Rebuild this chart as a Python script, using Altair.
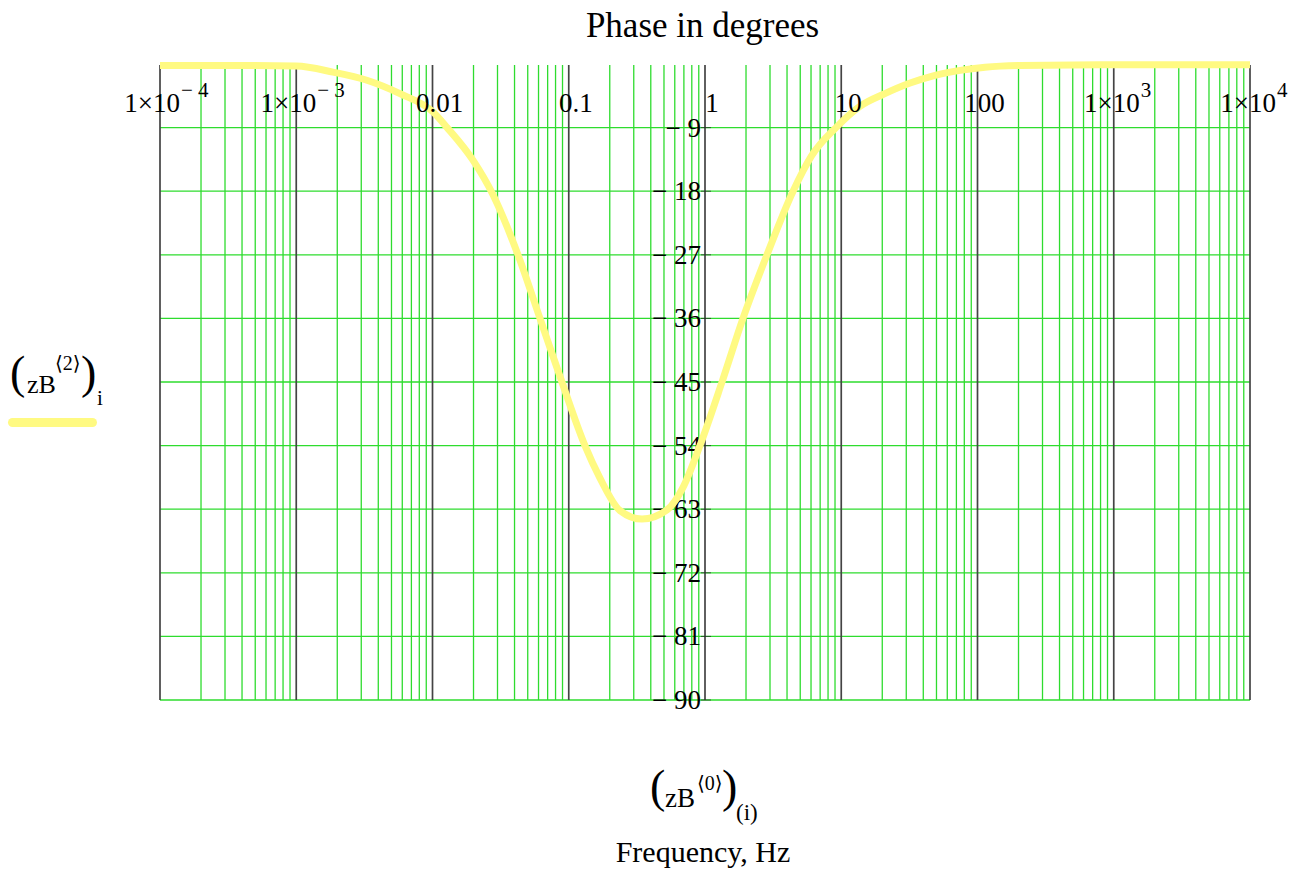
import altair as alt
import pandas as pd

# Phase response of zB column 2 against frequency (zB column 0)
freq_hz = [1e-4, 3.1e-4, 1.0e-3, 1.86e-3, 3.3e-3, 5.77e-3, 0.0101, 0.0128, 0.0198,
           0.0278, 0.0424, 0.0615, 0.0891, 0.1315, 0.1695, 0.2378, 0.345,
           0.526, 0.690, 0.918, 1.333, 1.90, 2.85, 4.43, 6.05, 9.15, 13.7, 20.9,
           32.0, 48.8, 74.4, 113.6, 205.0, 793.0, 1e4]
phase_deg = [-0.2, -0.2, -0.3, -1.15, -2.3, -4.2, -6.8, -9.0, -13.6,
             -18.5, -27.0, -36.0, -45.0, -54.0, -58.6, -63.2, -64.4,
             -63.1, -59.9, -54.0, -45.0, -36.0, -27.0, -18.0, -13.0, -9.0, -6.0, -4.2,
             -2.7, -1.6, -0.9, -0.45, -0.2, -0.1, -0.1]

decades = [1e-4, 1e-3, 0.01, 0.1, 1, 10, 100, 1e3, 1e4]
minor = [m * d for d in decades[:-1] for m in range(2, 10)]
phase_ticks = [-9, -18, -27, -36, -45, -54, -63, -72, -81, -90]

plain_f = [0.01, 0.1, 1, 10, 100]
plain_text = ["0.01", "0.1", "1", "10", "100"]
neg_f = [1e-4, 1e-3]
neg_exp = ["\u2212 4", "\u2212 3"]
pos_f = [1e3, 1e4]
pos_exp = ["3", "4"]

W, H = 1090, 636
SERIF = "Liberation Serif, Times New Roman, DejaVu Serif"
GREEN = "#2EDC2E"
DARK = "#444444"
YELLOW = "#FFFA82"

X_SCALE = alt.Scale(type="log", domain=[1e-4, 1e4], nice=False)
Y_SCALE = alt.Scale(domain=[-90, 0], nice=False)

top_axis = alt.Axis(orient="top", values=decades + minor, labels=False, title=None,
                    grid=False, tickSize=7, tickColor="#222", domainColor="#222",
                    tickWidth=1, domainWidth=1.2)

curve_df = pd.DataFrame({"f": freq_hz, "p": phase_deg})
minor_df = pd.DataFrame({"f": minor})
decade_df = pd.DataFrame({"f": decades})
hgrid_df = pd.DataFrame({"p": phase_ticks, "f": [1] * len(phase_ticks)})

minor_rules = alt.Chart(minor_df).mark_rule(color=GREEN, strokeWidth=1.3).encode(
    x=alt.X("f:Q", scale=X_SCALE, axis=top_axis),
    y=alt.value(1), y2=alt.value(H))

decade_rules = alt.Chart(decade_df).mark_rule(color=DARK, strokeWidth=1.7).encode(
    x=alt.X("f:Q", scale=X_SCALE, axis=None),
    y=alt.value(1), y2=alt.value(H))

h_rules = alt.Chart(hgrid_df).mark_rule(color=GREEN, strokeWidth=1.3).encode(
    y=alt.Y("p:Q", scale=Y_SCALE, axis=None))

# phase axis drawn through 1 Hz: crossing ticks and "− n" labels
y_ticks = alt.Chart(hgrid_df).mark_tick(color="#222", orient="horizontal", size=10,
                                        thickness=1, xOffset=1).encode(
    x=alt.X("f:Q", scale=X_SCALE, axis=None),
    y=alt.Y("p:Q", scale=Y_SCALE, axis=None))

y_labels = alt.Chart(hgrid_df).transform_calculate(
    lbl="'\u2212 ' + abs(datum.p)"
).mark_text(align="right", baseline="middle", dx=-4, dy=1, font=SERIF,
            fontSize=27, color="black").encode(
    x=alt.X("f:Q", scale=X_SCALE, axis=None),
    y=alt.Y("p:Q", scale=Y_SCALE, axis=None),
    text="lbl:N")

curve = alt.Chart(curve_df).mark_line(color=YELLOW, strokeWidth=7,
                                      interpolate="monotone").encode(
    x=alt.X("f:Q", scale=X_SCALE, axis=None),
    y=alt.Y("p:Q", scale=Y_SCALE, axis=None))

# decade labels printed under the top axis line
plain_lbl = alt.Chart(pd.DataFrame({"f": plain_f, "t": plain_text})).mark_text(
    align="center", baseline="alphabetic", dx=7, font=SERIF, fontSize=27,
    color="black").encode(x=alt.X("f:Q", scale=X_SCALE, axis=None),
                          y=alt.value(48), text="t:N")

neg_df = pd.DataFrame({"f": neg_f, "t": ["1\u00d710"] * 2, "e": neg_exp})
pos_df = pd.DataFrame({"f": pos_f, "t": ["1\u00d710"] * 2, "e": pos_exp})


def sci_labels(df, base_dx):
    base = alt.Chart(df).mark_text(align="right", baseline="alphabetic", dx=base_dx,
                                   font=SERIF, fontSize=27, color="black").encode(
        x=alt.X("f:Q", scale=X_SCALE, axis=None), y=alt.value(48), text="t:N")
    exp = alt.Chart(df).mark_text(align="left", baseline="alphabetic", dx=base_dx + 1,
                                  font=SERIF, fontSize=21, color="black").encode(
        x=alt.X("f:Q", scale=X_SCALE, axis=None), y=alt.value(33), text="e:N")
    return [base, exp]


def label(text, x, y, size, align="left"):
    return alt.Chart(alt.Data(values=[{}])).mark_text(
        text=text, align=align, baseline="alphabetic", font=SERIF, fontSize=size,
        color="black").encode(x=alt.value(x), y=alt.value(y))


texts = [
    label("Phase in degrees", 542.5, -27, 35, "center"),
    label("Frequency, Hz", 543, 798, 30, "center"),
    # (zB<0>)(i)
    label("(", 490, 738, 46),
    label("zB", 505, 743, 27),
    label("\u27e80\u27e9", 537, 726, 20),
    label(")", 562, 738, 46),
    label("(i)", 576, 756, 23),
    # (zB<2>)i
    label("(", -150, 324, 46),
    label("zB", -133, 329, 26),
    label("\u27e82\u27e9", -105, 306, 20),
    label(")", -79, 324, 46),
    label("i", -63, 341, 21),
]

legend_swatch = alt.Chart(alt.Data(values=[{}])).mark_rule(
    color=YELLOW, strokeWidth=9, strokeCap="round").encode(
    x=alt.value(-147.5), x2=alt.value(-67.5), y=alt.value(358.5))

chart = alt.layer(
    minor_rules, h_rules, decade_rules, y_ticks, y_labels, curve, plain_lbl,
    *sci_labels(neg_df, 20), *sci_labels(pos_df, 26), *texts, legend_swatch
).properties(
    width=W, height=H,
    padding={"left": 160, "top": 64, "right": 53, "bottom": 177},
    autosize=alt.AutoSizeParams(type="none"),
    background="white",
).configure_view(stroke=None)

chart.save("out.html", embed_options={"renderer": "svg", "actions": False})
